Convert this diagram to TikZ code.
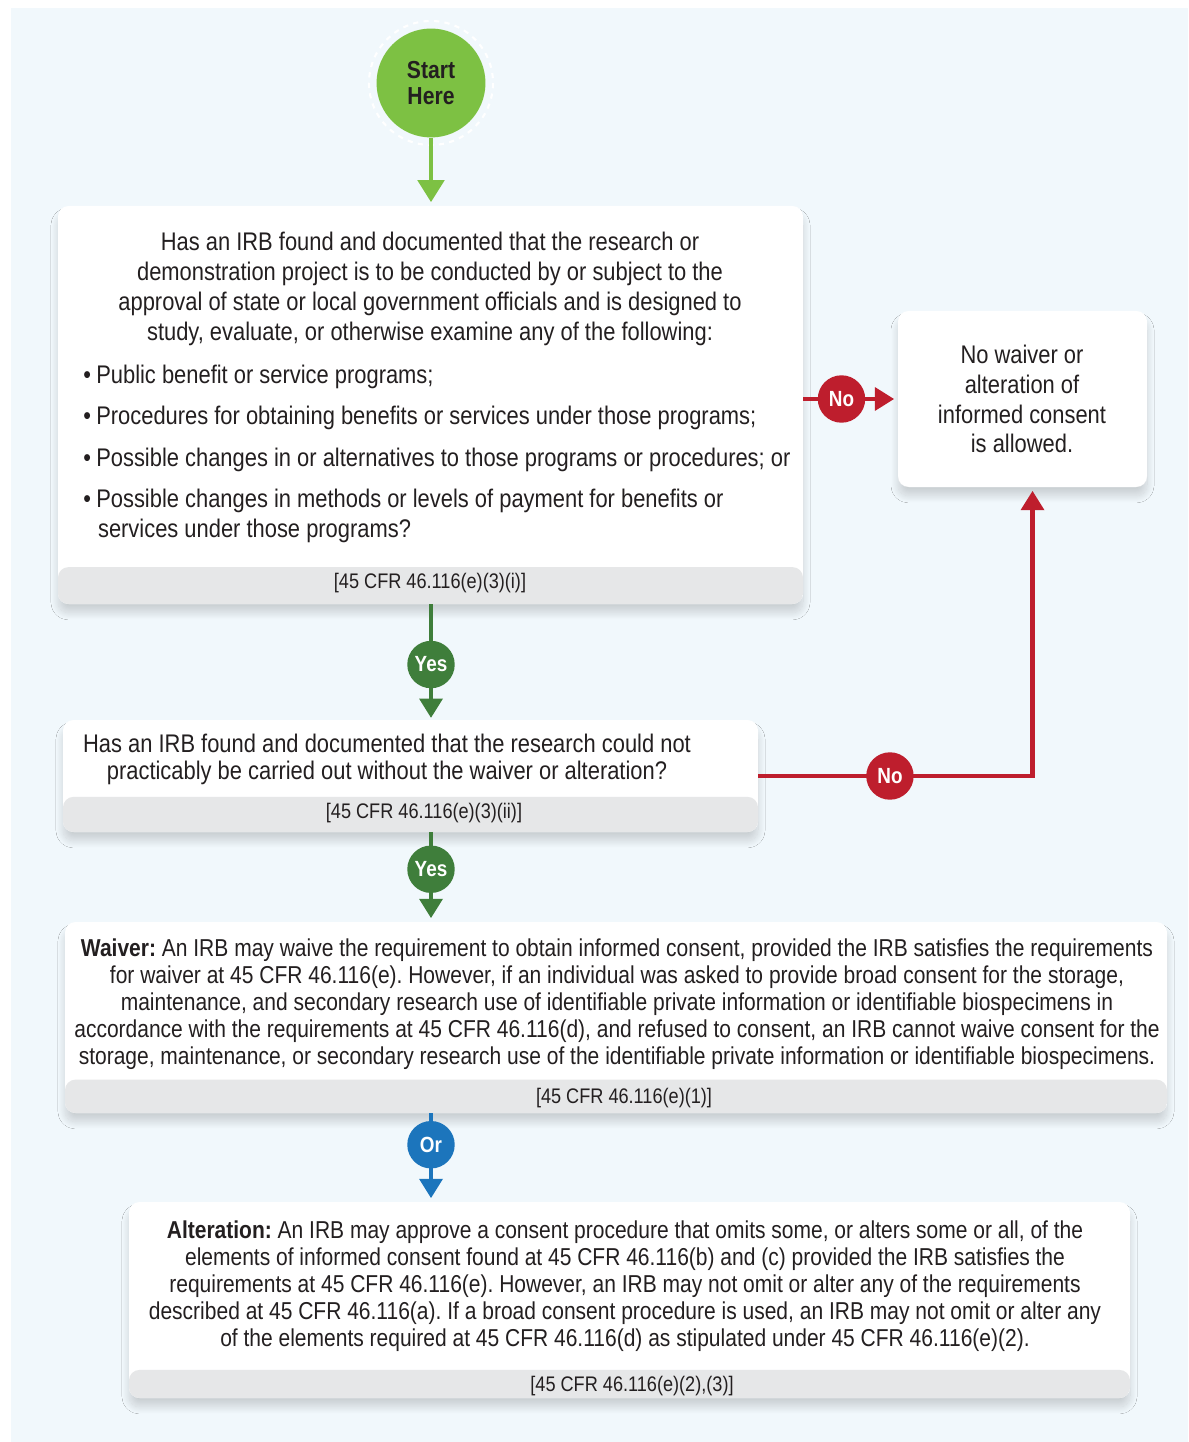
\documentclass[tikz,border=0pt]{standalone}
\usepackage{fontspec}
\setmainfont{Liberation Sans}[FakeStretch=0.86]
\usetikzlibrary{arrows.meta,fit,shadows.blur}
\frenchspacing

\definecolor{fondo}{HTML}{F1F8FC}
\definecolor{pie}{HTML}{E6E7E8}
\definecolor{tinta}{HTML}{231F20}
\definecolor{verdeini}{HTML}{7DC143}
\definecolor{verde}{HTML}{3F7E3B}
\definecolor{rojo}{HTML}{BE1E2D}
\definecolor{azul}{HTML}{1C75BC}

\newcommand\qfont{\fontsize{14.5}{17}\selectfont}
\newcommand\wfont{\fontsize{13.9}{15.3}\selectfont}
\newcommand\ffont{\fontsize{12}{13}\selectfont}

\begin{document}
\begin{tikzpicture}[x=0.02cm,y=-0.02cm,
    qbox/.style={fill=white,rounded corners=6pt,inner sep=0pt,
        blur shadow={shadow xshift=0pt,shadow yshift=-5pt,shadow blur radius=4pt,shadow blur steps=20,shadow opacity=16},
        path picture={\fill[pie] ([yshift=#1]path picture bounding box.south west) rectangle (path picture bounding box.south east);}},
    txt/.style={text=tinta,inner sep=0pt},
    foot/.style={txt,font=\ffont},
    dot/.style={circle,fill=#1,text=white,inner sep=0pt,minimum size=27pt,font=\bfseries\fontsize{12.5}{14}\selectfont},
    link/.style={line width=2.3pt,draw=#1,-{Triangle[width=13pt,length=11pt]}}]

    \def\pxl{0.02cm}%un pixel

    %Fondo
    \useasboundingbox (0,0) rectangle (1188,1442);
    \fill[fondo] (11,8) rectangle (1188,1442);

    %Inicio
    \node[circle,fill=verdeini,minimum size=62pt,align=center,text=tinta,
        font=\bfseries\fontsize{14}{14.7}\selectfont] (start) at (431,83) {Start\\Here};
    \draw[white,dashed,line width=1.2pt] (start.center) circle[radius=62];

    %Cajas
    \node[qbox=21pt,fit={(58,206) (803,604)}] (q1) {};
    \node[qbox=20pt,fit={(63,720) (758,832)}] (q2) {};
    \node[qbox=19pt,fit={(65,922) (1167,1113)}] (q3) {};
    \node[qbox=16pt,fit={(129,1202) (1130,1398)}] (q4) {};
    \node[qbox=0pt,fit={(898,311) (1147,487)}] (nobox) {};

    %Textos
    \node[txt,font=\qfont,align=center] (q1t) at (430,289) {Has an IRB found and documented that the research or\\
        demonstration project is to be conducted by or subject to the\\
        approval of state or local government officials and is designed to\\
        study, evaluate, or otherwise examine any of the following:};
    \foreach \t/\yy [count=\i] in {{Public benefit or service programs;}/377,
        {Procedures for obtaining benefits or services under those programs;}/418,
        {Possible changes in or alternatives to those programs or procedures; or}/460}
        \node[txt,font=\qfont,anchor=west] (b\i) at (83,\yy) {•\hspace{3pt}\t};
    \node[txt,font=\qfont,anchor=west,align=left] (b4) at (83,515.5) {•\hspace{3pt}Possible changes in methods or levels of payment for benefits or\\
        \phantom{•}\hspace{4pt}services under those programs?};
    \node[foot] (q1f) at (430,583) {[45 CFR 46.116(e)(3)(i)]};

    \node[txt,font=\qfont,align=center] (not) at (1022,399) {No waiver or\\alteration of\\informed consent\\is allowed.};

    \node[txt,font=\fontsize{14.5}{15.5}\selectfont,align=center] (q2t) at (387,759.5) {Has an IRB found and documented that the research could not\\
        practicably be carried out without the waiver or alteration?};
    \node[foot] (q2f) at (424,813) {[45 CFR 46.116(e)(3)(ii)]};

    \node[txt,font=\wfont,align=center] (q3t) at (617,1004) {\textbf{Waiver:} An IRB may waive the requirement to obtain informed consent, provided the IRB satisfies the requirements\\
        for waiver at 45 CFR 46.116(e). However, if an individual was asked to provide broad consent for the storage,\\
        maintenance, and secondary research use of identifiable private information or identifiable biospecimens in\\
        accordance with the requirements at 45 CFR 46.116(d), and refused to consent, an IRB cannot waive consent for the\\
        storage, maintenance, or secondary research use of the identifiable private information or identifiable biospecimens.};
    \node[foot] (q3f) at (624,1098) {[45 CFR 46.116(e)(1)]};

    \node[txt,font=\wfont,align=center] (q4t) at (625,1286) {\textbf{Alteration:} An IRB may approve a consent procedure that omits some, or alters some or all, of the\\
        elements of informed consent found at 45 CFR 46.116(b) and (c) provided the IRB satisfies the\\
        requirements at 45 CFR 46.116(e). However, an IRB may not omit or alter any of the requirements\\
        described at 45 CFR 46.116(a). If a broad consent procedure is used, an IRB may not omit or alter any\\
        of the elements required at 45 CFR 46.116(d) as stipulated under 45 CFR 46.116(e)(2).};
    \node[foot] (q4f) at (632,1386) {[45 CFR 46.116(e)(2),(3)]};

    %Flechas
    \draw[link=verdeini,-{Triangle[width=15pt,length=12.5pt]}] (start) -- ([yshift=2pt]start |- q1.north);
    \draw[link=verde] (start |- q1.south) -- node[dot=verde,pos=0.53] (yes1) {Yes} ([yshift=1pt]start |- q2.north);
    \draw[link=verde] (start |- q2.south) -- node[dot=verde,pos=0.43] (yes2) {Yes} ([yshift=2pt]start |- q3.north);
    \draw[link=azul] (start |- q3.south) -- node[dot=azul,pos=0.37] (or) {Or} ([yshift=2pt]start |- q4.north);
    \draw[link=rojo] (q1.east |- nobox.west) -- node[dot=rojo,pos=0.42] (no1) {No} ([xshift=-2pt]nobox.west);
    \draw[link=rojo] (q2.east) -| node[dot=rojo,pos=0.24] (no2) {No} ([xshift=10*\pxl,yshift=-2pt]nobox.south);

\end{tikzpicture}
\end{document}
